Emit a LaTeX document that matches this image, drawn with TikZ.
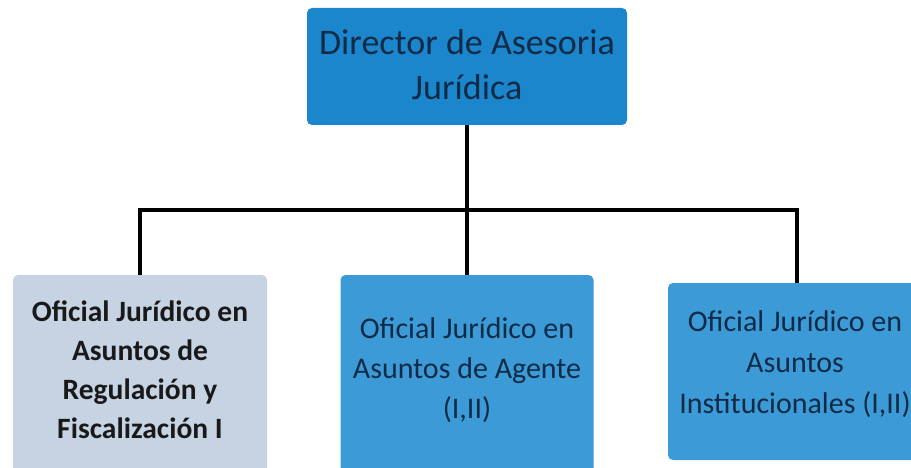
\documentclass[tikz,border=0pt]{standalone}
\usepackage{fontspec}
\setmainfont{Carlito}
\definecolor{topblue}{HTML}{1B86CB}
\definecolor{midblue}{HTML}{3C9BD6}
\definecolor{lightbox}{HTML}{C6D3E3}
\definecolor{navytext}{HTML}{0F2B47}
\begin{document}
\begin{tikzpicture}[x=1pt,y=-1pt,
  box/.style={rounded corners=5pt, inner sep=0pt},
  txt/.style={align=center, inner sep=0pt, text=navytext},
  conn/.style={line width=3.5pt, black}]
\useasboundingbox (0,0) rectangle (911,468);
\fill[white] (0,0) rectangle (911,468);
\node[box, fill=topblue, minimum width=320pt, minimum height=117pt] (top) at (467,66.5) {};
\node[txt, font=\fontsize{36}{45}\selectfont] (toptext) at (467,64.5)
      {Director de Asesoria\\Jurídica};
\node[box, fill=lightbox, minimum width=254pt, minimum height=202pt] (left) at (140,376) {};
\node[txt, text=black!90, font=\bfseries\fontsize{29.5}{39}\selectfont] (lefttext) at (140,370)
      {Oficial Jurídico en\\Asuntos de\\Regulación y\\Fiscalización I};
\node[box, fill=midblue, minimum width=253pt, minimum height=202pt] (mid) at (467,376) {};
\node[txt, font=\fontsize{30}{40}\selectfont] (midtext) at (467,370)
      {Oficial Jurídico en\\Asuntos de Agente\\(I,II)};
\node[box, fill=midblue, minimum width=258pt, minimum height=177pt] (right) at (797,371.5) {};
\node[txt, font=\fontsize{30}{41}\selectfont] (righttext) at (795,364)
      {Oficial Jurídico en\\Asuntos\\Institucionales (I,II)};
\coordinate (bus) at (467,210);
\draw[conn] (top.south) -- (bus);
\draw[conn] (left.north) |- (bus) -| (right.north);
\draw[conn] (bus) -- (mid.north);
\end{tikzpicture}
\end{document}
